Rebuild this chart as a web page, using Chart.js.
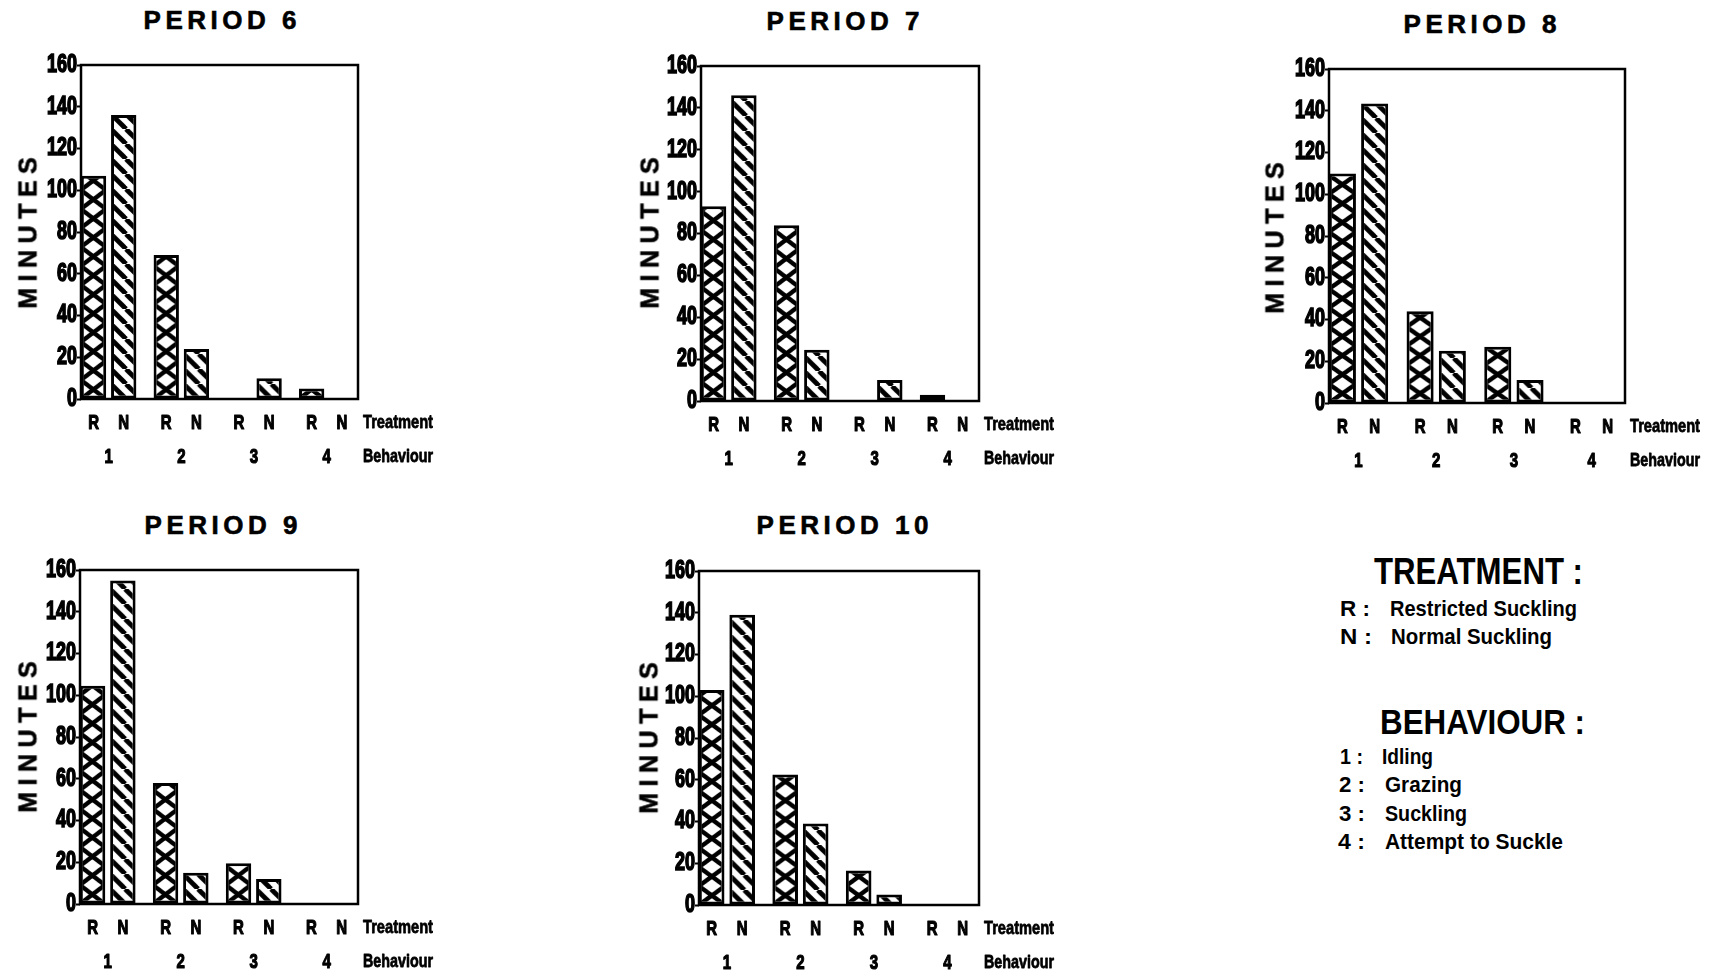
<!DOCTYPE html>
<html><head><meta charset="utf-8">
<script src="https://cdn.jsdelivr.net/npm/chart.js@4.4.1/dist/chart.umd.min.js"></script>
<style>
html,body{margin:0;padding:0;background:#fff;overflow:hidden}
#page{position:relative;width:1713px;height:974px;background:#fff;overflow:hidden}
canvas{position:absolute}
.t{position:absolute;white-space:nowrap;line-height:1;color:#000}
.title{font:bold 26px 'Liberation Sans',Arial,sans-serif;letter-spacing:4.5px;padding-left:4.5px;transform:translate(-50%,-50%);-webkit-text-stroke:0.6px #000}
.ylab{font:bold 25px 'Liberation Sans',Arial,sans-serif;letter-spacing:6.5px;padding-left:6.5px;transform:translate(-50%,-50%) rotate(-90deg);-webkit-text-stroke:0.6px #000}
.lg{font-family:'Liberation Sans',Arial,sans-serif;font-weight:bold;transform-origin:0 50%}
</style></head>
<body><div id="page"></div>
<script>
// ---------- data ----------
const behaviours = ['1', '2', '3', '4'];
const behaviourNames = ['Idling', 'Grazing', 'Suckling', 'Attempt to Suckle'];
const treatments = ['R', 'N'];
const treatmentNames = ['Restricted Suckling', 'Normal Suckling'];
const periods = ['PERIOD 6', 'PERIOD 7', 'PERIOD 8', 'PERIOD 9', 'PERIOD 10'];
const restricted6 = [107, 69, 0, 5];
const normal6 = [136, 24, 10, 0];
const restricted7 = [93, 84, 0, 3];
const normal7 = [146, 24.5, 10, 0];
const restricted8 = [110, 44, 27, 0];
const normal8 = [143.5, 25, 11, 0];
const restricted9 = [104.5, 58, 19.5, 0];
const normal9 = [155, 15, 12, 0];
const restricted10 = [103, 62.5, 16.5, 0];
const normal10 = [139, 39, 5, 0];
const yTicks = [0, 20, 40, 60, 80, 100, 120, 140, 160];
const yTitle = 'MINUTES';
const rowTitles = ['Treatment', 'Behaviour'];
const legendHeads = ['TREATMENT :', 'BEHAVIOUR :'];

const restrictedSeries = [restricted6, restricted7, restricted8, restricted9, restricted10];
const normalSeries = [normal6, normal7, normal8, normal9, normal10];

// ---------- layout (pixels) ----------
const panelBoxes = [
  {L: 81,  R: 358,  T: 65,  B: 399, tx: 220,   ty: 19.5, yx: 28,   yy: 233},
  {L: 701, R: 979,  T: 66,  B: 401, tx: 843,   ty: 21,   yx: 650,  yy: 233},
  {L: 1329,R: 1625, T: 69,  B: 403, tx: 1480,  ty: 24,   yx: 1275, yy: 238},
  {L: 80,  R: 358,  T: 570, B: 904, tx: 221,   ty: 525,  yx: 28,   yy: 737},
  {L: 699, R: 979,  T: 571, B: 905, tx: 842.5, ty: 525,  yx: 649,  yy: 738}
];
const PADL = 70, PADT = 25, PADR = 120, PADB = 80, YW = 50;
const SANS = "'Liberation Sans',Arial,sans-serif";
const SQUEEZE = 0.72;

const page = document.getElementById('page');
function addText(cls, text, x, y, extra) {
  const d = document.createElement('div');
  d.className = 't ' + cls;
  d.textContent = text;
  d.style.left = x + 'px';
  d.style.top = y + 'px';
  if (extra) Object.assign(d.style, extra);
  page.appendChild(d);
  return d;
}

// ---------- hatch tiles ----------
function crossTile(w, h) {
  const c = document.createElement('canvas');
  c.width = w; c.height = h;
  const g = c.getContext('2d');
  g.fillStyle = '#fff'; g.fillRect(0, 0, w, h);
  g.strokeStyle = '#000'; g.lineWidth = 4.4;
  for (const dx of [-w, 0, w]) for (const dy of [-h, 0, h]) {
    g.beginPath();
    g.moveTo(dx, dy); g.lineTo(dx + w, dy + h);
    g.moveTo(dx + w, dy); g.lineTo(dx, dy + h);
    g.stroke();
  }
  return c;
}
function stripeTile(s) {
  const c = document.createElement('canvas');
  c.width = s; c.height = s;
  const g = c.getContext('2d');
  g.fillStyle = '#fff'; g.fillRect(0, 0, s, s);
  g.strokeStyle = '#000'; g.lineWidth = 4.8;
  for (const dx of [-s, 0, s]) {
    g.beginPath(); g.moveTo(dx, 0); g.lineTo(dx + s, s); g.stroke();
  }
  return c;
}
const stripe = stripeTile(15);

const hatchPlugin = {
  id: 'hatch',
  beforeDatasetsDraw(chart) {
    const bottom = chart.chartArea.bottom;
    chart.data.datasets.forEach((ds, d) => {
      chart.getDatasetMeta(d).data.forEach(el => {
        const w = el.width, left = el.x - w / 2;
        const tile = d === 0 ? crossTile(Math.max(4, Math.round(w)), 19) : stripe;
        const p = chart.ctx.createPattern(tile, 'repeat');
        p.setTransform(new DOMMatrix().translate(left, bottom));
        el.options.backgroundColor = p;
      });
    });
  }
};
// condensed tick labels (the reference uses a narrow face)
const squeezePlugin = {
  id: 'squeeze',
  beforeDraw(chart) {
    const y = chart.scales.y;
    if (y.__squeezed) return;
    const orig = y.drawLabels.bind(y);
    y.drawLabels = function (area) {
      const c = this.ctx, ax = this.right - 4;
      c.save();
      c.translate(ax, 0); c.scale(SQUEEZE, 1); c.translate(-ax, 0);
      orig(area);
      c.restore();
    };
    y.__squeezed = true;
  }
};
const framePlugin = {
  id: 'frame',
  afterDatasetsDraw(chart) {
    const {left, top, right, bottom} = chart.chartArea;
    const c = chart.ctx;
    c.save(); c.strokeStyle = '#000'; c.lineWidth = 2.5;
    c.strokeRect(left, top, right - left, bottom - top);
    c.restore();
  }
};
function squeezedText(c, text, x, y) {
  c.save(); c.translate(x, y); c.scale(0.75, 1);
  c.strokeText(text, 0, 0); c.fillText(text, 0, 0);
  c.restore();
}
const labelPlugin = {
  id: 'rowLabels',
  afterDraw(chart) {
    const c = chart.ctx, a = chart.chartArea;
    const rnY = a.bottom + 24, bhY = a.bottom + 58;
    c.save();
    c.fillStyle = '#000'; c.strokeStyle = '#000'; c.lineWidth = 1.2; c.lineJoin = 'round';
    c.font = 'bold 20px ' + SANS;
    c.textAlign = 'center'; c.textBaseline = 'middle';
    chart.data.datasets.forEach((ds, d) => {
      chart.getDatasetMeta(d).data.forEach(el => squeezedText(c, ds.label, el.x, rnY));
    });
    chart.data.labels.forEach(lab => squeezedText(c, lab, chart.scales.x.getPixelForValue(+lab), bhY));
    c.textAlign = 'left';
    c.font = 'bold 19px ' + SANS;
    c.lineWidth = 0.8;
    rowTitles.forEach((t, k) => {
      const yy = k === 0 ? rnY : bhY;
      c.strokeText(t, a.right + 5, yy, 70);
      c.fillText(t, a.right + 5, yy, 70);
    });
    c.restore();
  }
};

panelBoxes.forEach((p, i) => {
  const cv = document.createElement('canvas');
  const w = (p.R - p.L) + PADL + PADR, h = (p.B - p.T) + PADT + PADB;
  cv.width = w; cv.height = h;
  cv.style.left = (p.L - PADL) + 'px';
  cv.style.top = (p.T - PADT) + 'px';
  cv.style.width = w + 'px'; cv.style.height = h + 'px';
  page.appendChild(cv);

  const barOpts = {
    categoryPercentage: 0.83, barPercentage: 0.84,
    borderColor: '#000', borderWidth: 3, borderSkipped: false,
    backgroundColor: () => '#fff'
  };
  new Chart(cv, {
    type: 'bar',
    data: {
      labels: behaviours,
      datasets: [
        Object.assign({label: treatments[0], data: restrictedSeries[i]}, barOpts),
        Object.assign({label: treatments[1], data: normalSeries[i]}, barOpts)
      ]
    },
    options: {
      responsive: false, animation: false, events: [],
      layout: {padding: {left: PADL - YW, top: PADT, right: PADR, bottom: PADB}},
      scales: {
        x: {
          type: 'linear', offset: false, min: 0.62, max: 4.43, display: false,
          afterBuildTicks: s => { s.ticks = behaviours.map(b => ({value: +b})); }
        },
        y: {
          min: yTicks[0], max: yTicks[yTicks.length - 1],
          afterBuildTicks: s => { s.ticks = yTicks.map(v => ({value: v})); },
          afterFit: s => { s.width = YW; },
          border: {display: false},
          grid: {drawOnChartArea: false, drawTicks: true, tickLength: 4, tickColor: '#000', tickWidth: 2},
          ticks: {
            color: '#000', padding: 0, textStrokeColor: '#000', textStrokeWidth: 1.6,
            font: {family: SANS, weight: 'bold', size: 25}
          }
        }
      },
      plugins: {legend: {display: false}, tooltip: {enabled: false}, title: {display: false}}
    },
    plugins: [squeezePlugin, hatchPlugin, framePlugin, labelPlugin]
  });

  addText('title', periods[i], p.tx, p.ty);
  addText('ylab', yTitle, p.yx, p.yy);
});

// ---------- legend ----------
const legendLayout = {
  heads: [{x: 1374, y: 571, fs: 37, w: 209}, {x: 1380, y: 720.5, fs: 35, w: 205}],
  tKeys: [{x: 1340, y: 609, w: 30}, {x: 1340, y: 636.5, w: 32}],
  tText: [{x: 1390, w: 187}, {x: 1391, w: 161}],
  bKeys: [{x: 1340, y: 757, w: 23}, {x: 1339, y: 785, w: 26}, {x: 1339, y: 814, w: 26}, {x: 1338, y: 842, w: 27}],
  bText: [{x: 1382, w: 51}, {x: 1385, w: 77}, {x: 1385, w: 82}, {x: 1385, w: 178}],
  fs: 22
};
const fitEls = [];
function lg(text, x, y, fs, w) {
  const d = addText('lg', text, x, y, {fontSize: fs + 'px'});
  fitEls.push([d, w]);
}
lg(legendHeads[0], legendLayout.heads[0].x, legendLayout.heads[0].y, legendLayout.heads[0].fs, legendLayout.heads[0].w);
treatments.forEach((t, i) => {
  const k = legendLayout.tKeys[i], tx = legendLayout.tText[i];
  lg(t + ' :', k.x, k.y, legendLayout.fs, k.w);
  lg(treatmentNames[i], tx.x, k.y, legendLayout.fs, tx.w);
});
lg(legendHeads[1], legendLayout.heads[1].x, legendLayout.heads[1].y, legendLayout.heads[1].fs, legendLayout.heads[1].w);
behaviours.forEach((b, i) => {
  const k = legendLayout.bKeys[i], tx = legendLayout.bText[i];
  lg(b + ' :', k.x, k.y, legendLayout.fs, k.w);
  lg(behaviourNames[i], tx.x, k.y, legendLayout.fs, tx.w);
});
fitEls.forEach(([d, w]) => {
  const nat = d.getBoundingClientRect().width;
  d.style.transform = 'translateY(-50%) scaleX(' + (w / nat) + ')';
});
</script>
</body></html>
